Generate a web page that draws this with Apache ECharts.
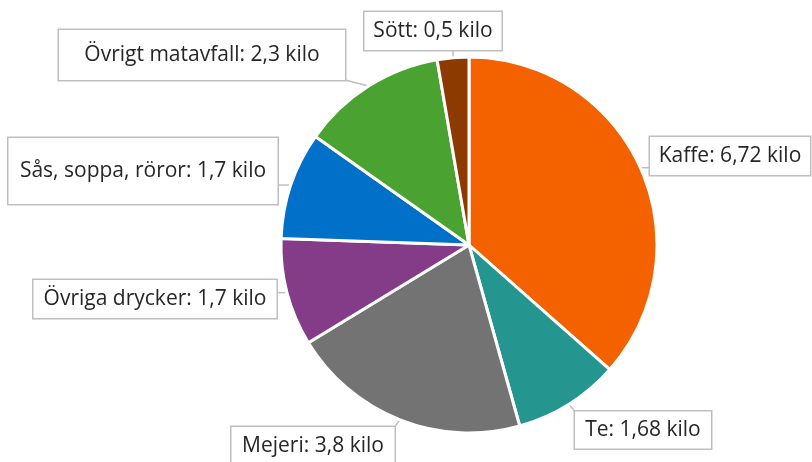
<!DOCTYPE html>
<html>
<head>
<meta charset="utf-8">
<script src="https://cdn.jsdelivr.net/npm/echarts@6/dist/echarts.min.js"></script>
<style>
  html, body { margin: 0; padding: 0; background: #fff; }
  #chart { width: 812px; height: 462px; }
</style>
</head>
<body>
<div id="chart"></div>
<script>
// data
var categories = ['Kaffe', 'Te', 'Mejeri', 'Övriga drycker', 'Sås, soppa, röror', 'Övrigt matavfall', 'Sött'];
var values = [6.72, 1.68, 3.8, 1.7, 1.7, 2.3, 0.5];
var valueText = ['6,72', '1,68', '3,8', '1,7', '1,7', '2,3', '0,5'];
var colors = ['#F46200', '#25958F', '#737373', '#843C88', '#0070C8', '#4AA331', '#8C3A00'];

// label box centres and sizes
var labelPos = [[730, 156], [643, 430], [313, 446], [155, 299], [143, 171], [202, 55], [433, 31]];
var labelSize = [[160, 38], [136, 37], [163, 38], [243, 38], [269, 66], [286, 50], [137, 38]];

var pieData = [];
for (var i = 0; i < categories.length; i++) {
  pieData.push({
    name: categories[i],
    value: values[i],
    itemStyle: { color: colors[i] }
  });
}

function clamp(v, a, b) { return Math.max(a, Math.min(b, v)); }

var chart = echarts.init(document.getElementById('chart'));
chart.setOption({
  animation: false,
  series: [{
    type: 'pie',
    center: [469, 245],
    radius: [0, 188],
    startAngle: 90,
    clockwise: true,
    data: pieData,
    itemStyle: { borderColor: '#fff', borderWidth: 3 },
    label: {
      show: true,
      overflow: 'none',
      formatter: function (p) { return p.name + ': ' + valueText[p.dataIndex] + ' kilo'; },
      fontFamily: 'Open Sans',
      fontSize: 21,
      lineHeight: 24,
      padding: 0,
      color: '#262626',
      backgroundColor: '#fff',
      borderColor: '#bfbfbf',
      borderWidth: 1.5
    },
    labelLine: {
      show: true,
      length: 4,
      length2: 4,
      lineStyle: { color: '#bfbfbf', width: 1.5 }
    },
    labelLayout: function (params) {
      var i = params.dataIndex;
      var p = labelPos[i];
      var w = labelSize[i][0], h = labelSize[i][1];
      var s = params.labelLinePoints ? params.labelLinePoints[0] : null;
      var res = { x: p[0], y: p[1], width: w, height: h, align: 'center', verticalAlign: 'middle' };
      if (s) {
        var ex = clamp(s[0], p[0] - w / 2, p[0] + w / 2);
        var ey = clamp(s[1], p[1] - h / 2, p[1] + h / 2);
        res.labelLinePoints = [[s[0], s[1]], [s[0], s[1]], [ex, ey]];
      }
      return res;
    }
  }]
});
</script>
</body>
</html>
